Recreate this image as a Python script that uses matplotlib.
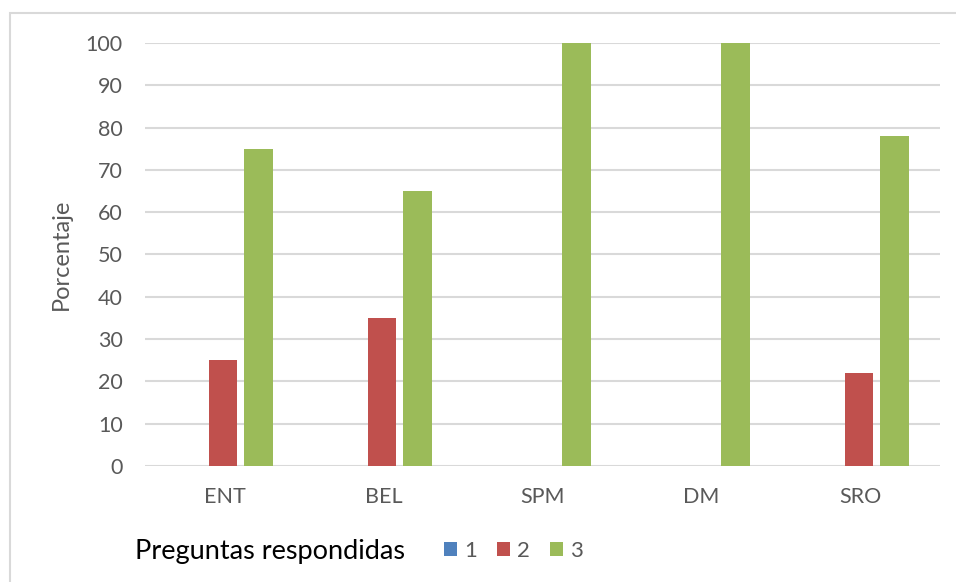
import numpy as np
import matplotlib
matplotlib.use("Agg")
import matplotlib.pyplot as plt
from matplotlib.patches import Rectangle

plt.rcParams['font.family'] = ['Lato', 'DejaVu Sans']

# data
categories = ["ENT", "BEL", "SPM", "DM", "SRO"]
series_names = ["1", "2", "3"]
serie_1 = [0, 0, 0, 0, 0]
serie_2 = [25, 35, 0, 0, 22]
serie_3 = [75, 65, 100, 100, 78]
y_ticks = [0, 10, 20, 30, 40, 50, 60, 70, 80, 90, 100]

colors = ["#4f81bd", "#c0504d", "#9bbb59"]
grey = "#595959"

fig = plt.figure(figsize=(9.56, 5.82), dpi=100)
ax = fig.add_axes([145 / 956, 116 / 582, 795 / 956, 423 / 582])

x = np.arange(len(categories))
w = 0.18
offsets = [-0.235, -0.01, 0.215]
bars = []
for vals, off, c, name in zip([serie_1, serie_2, serie_3], offsets, colors, series_names):
    b = ax.bar(x + off, vals, width=w, color=c, label=name, zorder=3)
    bars.append(b)

ax.set_xlim(-0.5, len(categories) - 0.5)
ax.set_ylim(0, 100)
ax.set_yticks(y_ticks)
ax.set_xticks(x)
ax.set_xticklabels(categories)
ax.tick_params(axis='both', length=0, labelsize=15.5, labelcolor=grey)
ax.tick_params(axis='y', pad=16)
ax.tick_params(axis='x', pad=15)
ax.grid(axis='y', color="#d9d9d9", linewidth=1.5, zorder=0)
for s in ax.spines.values():
    s.set_visible(False)
ax.set_ylabel("Porcentaje", fontsize=17, color=grey, labelpad=10)

# legend: title on the left, entries to the right
fig.text(135 / 956, 1 - 551 / 582, "Preguntas respondidas", fontsize=19.5,
         color="black", va="center", ha="left")
leg = fig.legend(handles=bars, labels=series_names, loc="center left",
                 bbox_to_anchor=(424 / 956, 1 - 551 / 582), ncol=3,
                 frameon=False, fontsize=16, handlelength=0.6, handleheight=0.6,
                 handletextpad=0.3, columnspacing=0.9)
for t in leg.get_texts():
    t.set_color(grey)

# outer chart frame (clipped at right/bottom in the original)
fig.patches.append(Rectangle((10 / 956, -0.1), 1.2, 1 - 13 / 582 + 0.1,
                             transform=fig.transFigure, fill=False,
                             edgecolor="#d9d9d9", linewidth=1.5))

fig.savefig("out.png", dpi=100, facecolor="white")
